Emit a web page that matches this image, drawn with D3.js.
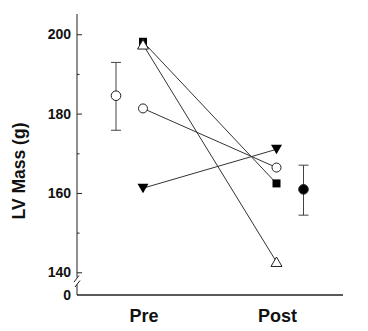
<!DOCTYPE html>
<html>
<head>
<meta charset="utf-8">
<script src="https://cdn.jsdelivr.net/npm/d3@7"></script>
<style>
  html, body { margin: 0; padding: 0; background: #fff; }
  svg { display: block; }
  text { font-family: "Liberation Sans", Arial, sans-serif; font-weight: bold; fill: #111; }
</style>
</head>
<body>
<svg id="chart" width="368" height="331"></svg>
<script>
// Time points
const phases = ["Pre", "Post"];

// Individual subjects: LV mass (g) before and after
const subjectShapes = ["filledSquare", "openTriangle", "openCircle", "filledDownTriangle"];
const subjectPre  = [198.1, 197.4, 181.3, 161.2];
const subjectPost = [162.4, 142.6, 166.4, 171.0];

// Group means with error bars
const meanValues = [184.5, 160.9];
const meanUpper  = [192.9, 167.0];
const meanLower  = [175.8, 154.4];
const meanFilled = [false, true];

// Axis ticks
const majorTicks = [140, 160, 180, 200];
const minorTicks = [150, 170, 190];
const zeroTick = [0];

const svg = d3.select("#chart");

// Broken y axis: main segment 140–205, separate stub for 0
const y = d3.scaleLinear().domain([140, 205.1]).range([272.3, 14]);
const yZero = d3.scaleLinear().domain([0, 1]).range([295, 294]);

const x = d3.scalePoint().domain(phases).range([143, 276.5]);
const meanOffset = 27;
const axisX = 77;
const ink = "#222";

// Main axis segment, ticks pointing inward
const gMain = svg.append("g").attr("transform", `translate(${axisX},0)`);
gMain.call(d3.axisLeft(y).tickValues(majorTicks).tickSize(-5).tickPadding(6).tickSizeOuter(0).tickFormat(d3.format("d")));
gMain.append("g").call(d3.axisLeft(y).tickValues(minorTicks).tickSize(-2.5).tickSizeOuter(0).tickFormat(""))
  .select(".domain").remove();
gMain.selectAll(".domain").attr("d", `M0,${y(205.1)}V277.5`);

// Zero stub below the break
const gZero = svg.append("g").attr("transform", `translate(${axisX},0)`);
gZero.call(d3.axisLeft(yZero).tickValues(zeroTick).tickSize(0).tickPadding(6).tickSizeOuter(0).tickFormat(d3.format("d")));
gZero.select(".domain").attr("d", `M0,284.5V${yZero(0)}`);

svg.selectAll(".tick text").style("font-size", "14px").style("font-family", "'Liberation Sans', Arial, sans-serif").attr("fill", "#111");
svg.selectAll(".domain, .tick line").attr("stroke", ink).attr("stroke-width", 1);

// Axis break marks
const brk = svg.append("g").attr("stroke", ink).attr("stroke-width", 1).attr("fill", "none");
brk.append("line").attr("x1", axisX - 3).attr("y1", 282).attr("x2", axisX + 2).attr("y2", 275.5);
brk.append("line").attr("x1", axisX - 2).attr("y1", 287).attr("x2", axisX + 3).attr("y2", 280.5);

// x axis baseline
svg.append("line")
  .attr("x1", axisX).attr("x2", 343)
  .attr("y1", yZero(0)).attr("y2", yZero(0))
  .attr("stroke", ink).attr("stroke-width", 1.3);

// Phase labels
svg.selectAll(".phase").data(phases).join("text")
  .attr("class", "phase")
  .attr("x", d => x(d) + 1)
  .attr("y", 322)
  .attr("text-anchor", "middle")
  .style("font-size", "18px")
  .text(d => d);

// Y axis title
svg.append("text")
  .attr("transform", "translate(25,171) rotate(-90)")
  .attr("text-anchor", "middle")
  .style("font-size", "17.5px")
  .text("LV Mass (g)");

// Subject connecting lines
const subjects = subjectPre.map((v, i) => ({ shape: subjectShapes[i], pre: v, post: subjectPost[i] }));
svg.append("g").selectAll("line").data(subjects).join("line")
  .attr("x1", x("Pre")).attr("y1", d => y(d.pre))
  .attr("x2", x("Post")).attr("y2", d => y(d.post))
  .attr("stroke", "#333").attr("stroke-width", 1);

// Marker drawing
function drawMarker(g, shape, cx, cy) {
  if (shape === "filledSquare") {
    g.append("rect").attr("x", cx - 4).attr("y", cy - 4).attr("width", 8).attr("height", 8)
      .attr("fill", "#000");
  } else if (shape === "openCircle") {
    g.append("circle").attr("cx", cx).attr("cy", cy).attr("r", 4.5)
      .attr("fill", "#fff").attr("stroke", "#222").attr("stroke-width", 1);
  } else if (shape === "openTriangle") {
    g.append("path").attr("d", `M${cx},${cy - 5}L${cx + 5.5},${cy + 4.5}L${cx - 5.5},${cy + 4.5}Z`)
      .attr("fill", "#fff").attr("stroke", "#222").attr("stroke-width", 1);
  } else if (shape === "filledDownTriangle") {
    g.append("path").attr("d", `M${cx - 5.5},${cy - 4.5}L${cx + 5.5},${cy - 4.5}L${cx},${cy + 5}Z`)
      .attr("fill", "#000");
  }
}

const markers = svg.append("g");
subjects.forEach(d => {
  drawMarker(markers, d.shape, x("Pre"), y(d.pre));
  drawMarker(markers, d.shape, x("Post"), y(d.post));
});

// Group means with error bars
const means = phases.map((p, i) => ({
  phase: p, value: meanValues[i], hi: meanUpper[i], lo: meanLower[i], filled: meanFilled[i],
  cx: x(p) + (i === 0 ? -meanOffset : meanOffset)
}));
const gm = svg.append("g");
means.forEach(m => {
  gm.append("line").attr("x1", m.cx).attr("x2", m.cx).attr("y1", y(m.hi)).attr("y2", y(m.lo))
    .attr("stroke", "#444").attr("stroke-width", 1);
  [m.hi, m.lo].forEach(v => {
    gm.append("line").attr("x1", m.cx - 5).attr("x2", m.cx + 5).attr("y1", y(v)).attr("y2", y(v))
      .attr("stroke", "#444").attr("stroke-width", 1);
  });
  gm.append("circle").attr("cx", m.cx).attr("cy", y(m.value)).attr("r", 4.8)
    .attr("fill", m.filled ? "#000" : "#fff").attr("stroke", "#222").attr("stroke-width", 1);
});
</script>
</body>
</html>
